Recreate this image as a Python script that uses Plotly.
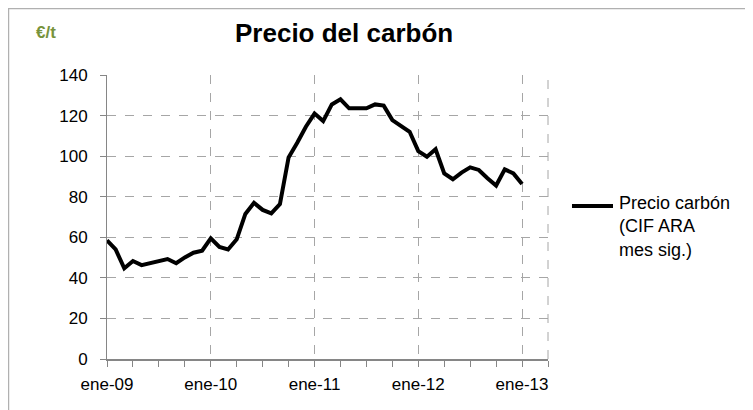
import plotly.graph_objects as go

months = [
    "ene-09", "feb-09", "mar-09", "abr-09", "may-09", "jun-09", "jul-09", "ago-09", "sep-09", "oct-09", "nov-09", "dic-09",
    "ene-10", "feb-10", "mar-10", "abr-10", "may-10", "jun-10", "jul-10", "ago-10", "sep-10", "oct-10", "nov-10", "dic-10",
    "ene-11", "feb-11", "mar-11", "abr-11", "may-11", "jun-11", "jul-11", "ago-11", "sep-11", "oct-11", "nov-11", "dic-11",
    "ene-12", "feb-12", "mar-12", "abr-12", "may-12", "jun-12", "jul-12", "ago-12", "sep-12", "oct-12", "nov-12", "dic-12",
    "ene-13",
]
precio_carbon = [
    58.5, 54.0, 44.7, 48.3, 46.3, 47.2, 48.3, 49.3, 47.2, 50.1, 52.4, 53.4,
    59.5, 55.2, 54.0, 59.0, 71.5, 77.0, 73.5, 71.8, 76.4, 99.4, 106.6, 114.5,
    121.0, 117.3, 125.5, 128.0, 123.6, 123.6, 123.6, 125.5, 124.9, 117.8, 115.0, 112.0,
    102.5, 99.7, 103.4, 91.5, 88.6, 91.9, 94.5, 93.2, 89.1, 85.5, 93.5, 91.5,
    86.3,
]
year_ticks = ["ene-09", "ene-10", "ene-11", "ene-12", "ene-13"]
y_ticks = [0, 20, 40, 60, 80, 100, 120, 140]

x_idx = list(range(len(months)))
tick_idx = [months.index(t) for t in year_ticks]
x_max = len(months) + 2          # axis runs one quarter past the last month
quarter_idx = list(range(0, x_max + 1, 3))

FONT = "Liberation Sans, Arial, sans-serif"
GRID = "#A6A6A6"
AXIS = "#868686"

fig = go.Figure()
fig.add_trace(go.Scatter(
    x=x_idx, y=precio_carbon, mode="lines",
    line=dict(color="black", width=4),
    name="Precio carbón (CIF ARA mes sig.)",
    showlegend=False,
))

fig.update_layout(
    width=745, height=402,
    margin=dict(l=99, r=205, t=67, b=51, autoexpand=False),
    paper_bgcolor="white", plot_bgcolor="white",
    font=dict(family=FONT, color="black", size=16),
    xaxis=dict(
        range=[0, x_max], tickvals=tick_idx, ticktext=year_ticks,
        showgrid=True, gridcolor=GRID, griddash="dash", gridwidth=1,
        showline=True, linecolor=AXIS, linewidth=2,
        ticks="outside", ticklen=6, tickcolor=AXIS, tickwidth=1,
        minor=dict(tickmode="array", tickvals=quarter_idx, ticks="outside", ticklen=6,
                   tickcolor=AXIS, tickwidth=1, showgrid=False),
        zeroline=False, tickfont=dict(size=17), ticklabelstandoff=3, automargin=False,
    ),
    yaxis=dict(
        range=[0, 140], tickvals=y_ticks,
        showgrid=True, gridcolor=GRID, griddash="dash", gridwidth=1,
        showline=True, linecolor=AXIS, linewidth=1,
        ticks="outside", ticklen=6, tickcolor=AXIS,
        zeroline=False, tickfont=dict(size=17), ticklabelstandoff=9, automargin=False,
    ),
    shapes=[
        dict(type="rect", xref="paper", yref="paper", x0=-0.2234, x1=1.48, y0=-0.22, y1=1.234,
             line=dict(color="#B0B0B0", width=1.5), layer="below"),
        dict(type="line", xref="paper", yref="paper", x0=1, x1=1, y0=0, y1=1,
             line=dict(color=GRID, width=1, dash="dash")),
        dict(type="line", xref="paper", yref="paper", x0=1.0544, x1=1.1474, y0=0.5387, y1=0.5387,
             line=dict(color="black", width=4)),
    ],
    annotations=[
        dict(text="<b>Precio del carbón</b>", xref="paper", yref="paper", x=0.537, y=1.148,
             xanchor="center", yanchor="middle", showarrow=False, font=dict(size=26, color="black")),
        dict(text="<b>€/t</b>", xref="paper", yref="paper", x=-0.138, y=1.148,
             xanchor="center", yanchor="middle", showarrow=False, font=dict(size=17, color="#77933C")),
        dict(text="Precio carbón<br>(CIF ARA<br>mes sig.)", xref="paper", yref="paper", x=1.1565, y=0.4648,
             xanchor="left", yanchor="middle", align="left", showarrow=False, font=dict(size=18, color="black")),
    ],
)

fig.write_html("out.html")
